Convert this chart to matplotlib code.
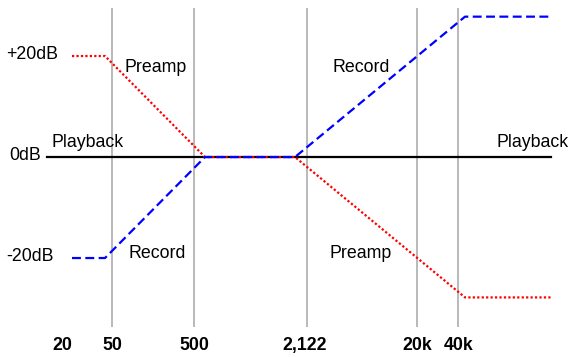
import matplotlib
matplotlib.use('Agg')
import matplotlib.pyplot as plt

plt.rcParams['font.family'] = ['Liberation Sans', 'DejaVu Sans']

# schematic frequency positions (diagram is not to scale)
freq_labels = ['20', '50', '500', '2,122', '20k', '40k']
freq_pos = [62, 112, 194, 305, 417, 459]
grid_pos = [112, 194, 307, 417, 458]

# curves: corner positions and level in dB
curve_x = [72, 105, 205, 295, 465, 552]
preamp_db = [20, 20, 0, 0, -27.8, -27.8]
record_db = [-20, -20, 0, 0, 27.8, 27.8]
playback_x = [47, 551]
playback_db = [0, 0]

db_labels = ['+20dB', '0dB', '-20dB']
db_values = [20, 0, -20]

fig = plt.figure(figsize=(5.78, 3.57), dpi=100)
ax = fig.add_axes([0, 0, 1, 1])
ax.set_xlim(0, 578)
ax.set_ylim(-39.6, 31.1)
ax.axis('off')

ax.vlines(grid_pos, -33.7, 29.5, color='#a6a6a6', lw=1.1)
ax.plot(playback_x, playback_db, color='black', lw=1.6)
ax.plot(curve_x, preamp_db, color='#ff0000', lw=1.6, linestyle=(0, (1, 1)))
ax.plot(curve_x, record_db, color='#0000ff', lw=1.6, linestyle=(0, (4, 2)))

fs = 12.8
# dB labels on the left
for lab, v, xx in zip(db_labels, db_values, [6, 9, 6]):
    ax.text(xx, v + 0.3, lab, fontsize=fs, ha='left', va='center')

# curve names
ax.text(88, 2.8, 'Playback', fontsize=fs, ha='center', va='center')
ax.text(533, 2.8, 'Playback', fontsize=fs, ha='center', va='center')
ax.text(156, 17.8, 'Preamp', fontsize=fs, ha='center', va='center')
ax.text(361, -19.2, 'Preamp', fontsize=fs, ha='center', va='center')
ax.text(157, -19.2, 'Record', fontsize=fs, ha='center', va='center')
ax.text(361, 17.8, 'Record', fontsize=fs, ha='center', va='center')

# frequency labels along the bottom
for lab, p in zip(freq_labels, freq_pos):
    ax.text(p, -37.3, lab, fontsize=fs, fontweight='bold', ha='center', va='center')

fig.savefig('out.png', dpi=100)
